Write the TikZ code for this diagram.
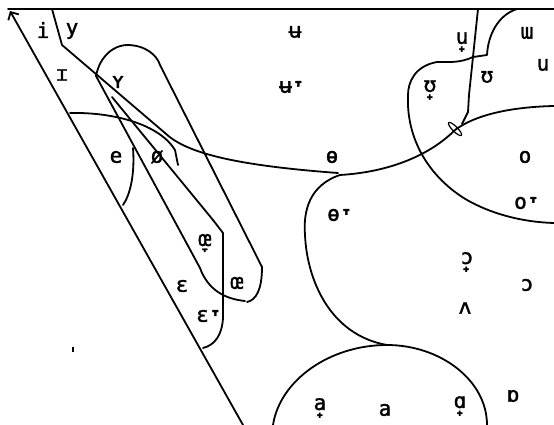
\documentclass[tikz,border=0pt]{standalone}
\usepackage{fontspec}
\setmainfont{DejaVu Sans Mono}
\newfontfamily\ipaf[FakeBold=1.5]{DejaVu Sans Mono}
\newfontfamily\modf[FakeBold=1.5]{DejaVu Sans}
\newcommand{\lowr}{{\modf\fontsize{26}{26}\selectfont ˕}}
\usetikzlibrary{arrows.meta}
\begin{document}
\begin{tikzpicture}[x=1pt,y=-1pt,
  bnd/.style={line width=1.8pt,line cap=round,line join=round},
  ipa/.style={font=\ipaf\fontsize{21}{21}\selectfont,inner sep=0pt,anchor=center}]
\useasboundingbox (0,0) rectangle (554,425);
% frame
\coordinate (tl) at (8,9);
\coordinate (tr) at (554,9);
\coordinate (bl) at (243,425);
\draw[bnd] (tl) -- (tr);
\draw[bnd,-{Straight Barb[length=6pt,width=12pt]}] (bl) -- (10,11);
% i/y separator and long curve
\draw[bnd] (52,9) -- (62,45) -- (165,133) .. controls (185,152) and (230,165) .. (338,173);
\draw[bnd] (340,175) .. controls (390,172) and (430,155) .. (455,130) .. controls (475,115) and (510,107) .. (554,106);
\draw[line width=1.2pt] (455,129) ellipse [x radius=9pt,y radius=2.5pt,rotate=-45];
% u-plus line
\draw[bnd] (478,9) -- (469,95) -- (468,112) -- (462,124);
% u-plus left region and big arc
\draw[bnd] (473,57) .. controls (460,63) and (450,62) .. (437,62) .. controls (415,66) and (408,82) .. (408,95)
  .. controls (406,140) and (430,178) .. (467,200) .. controls (490,213) and (520,222) .. (554,223);
% velar region
\draw[bnd] (517,9) .. controls (498,15) and (488,35) .. (487,55) -- (473,57);
% central open-mid region
\draw[bnd] (340,175) .. controls (310,185) and (303,210) .. (305,235) .. controls (307,280) and (330,335) .. (387,345);
\draw[bnd] (273,425) .. controls (280,380) and (330,345) .. (387,345) .. controls (440,345) and (487,380) .. (487,425);
% rounded front band
\draw[bnd] (96,76) .. controls (100,55) and (115,45) .. (127,45) .. controls (145,45) and (157,55) .. (160,65)
  -- (262,267) .. controls (262,290) and (256,300) .. (247,302);
\draw[bnd] (96,76) -- (200,268) .. controls (208,290) and (225,299) .. (245,301);
\draw[bnd] (112,97) -- (213,220) -- (223,233) -- (223,318) .. controls (222,335) and (215,345) .. (203,348);
\draw[bnd] (70,113) .. controls (115,112) and (160,125) .. (175,150) -- (178,165);
\draw[bnd] (133,148) .. controls (135,175) and (130,195) .. (123,205);
\fill (72,347) rectangle (74,352);
% labels
\node[ipa] (i) at (43,30) {i};
\node[ipa] (y) at (72,31) {y};
\node[ipa] (I) at (62,75) {ɪ};
\node[ipa] (Y) at (118,82) {ʏ};
\node[ipa] (e) at (116,157) {e};
\node[ipa] (oe) at (157,157) {ø};
\node[ipa] (OEl) at (205,243) {œ̞};
\node[ipa] (E) at (182,286) {ɛ};
\node[ipa] (OE) at (237,283) {œ};
\node[ipa] (El) at (209,316) {ɛ\lowr};
\node[ipa] (ubar) at (295,32) {ʉ};
\node[ipa] (ubarl) at (292,87) {ʉ\lowr};
\node[ipa] (uadv) at (462,42) {u̟};
\node[ipa] (ww) at (527,33) {ɯ};
\node[ipa] (u) at (543,65) {u};
\node[ipa] (U) at (487,77) {ʊ};
\node[ipa] (Uadv) at (430,90) {ʊ̟};
\node[ipa] (obar) at (332,157) {ɵ};
\node[ipa] (obarl) at (340,215) {ɵ\lowr};
\node[ipa] (o) at (525,157) {o};
\node[ipa] (ol) at (527,203) {o\lowr};
\node[ipa] (Oadv) at (467,262) {ɔ̟};
\node[ipa] (O) at (527,285) {ɔ};
\node[ipa] (V) at (465,308) {ʌ};
\node[ipa] (Ab) at (513,396) {ɒ};
\node[ipa] (aadv) at (320,408) {a̟};
\node[ipa] (a) at (385,410) {a};
\node[ipa] (Aadv) at (460,406) {ɑ̟};
\end{tikzpicture}
\end{document}
